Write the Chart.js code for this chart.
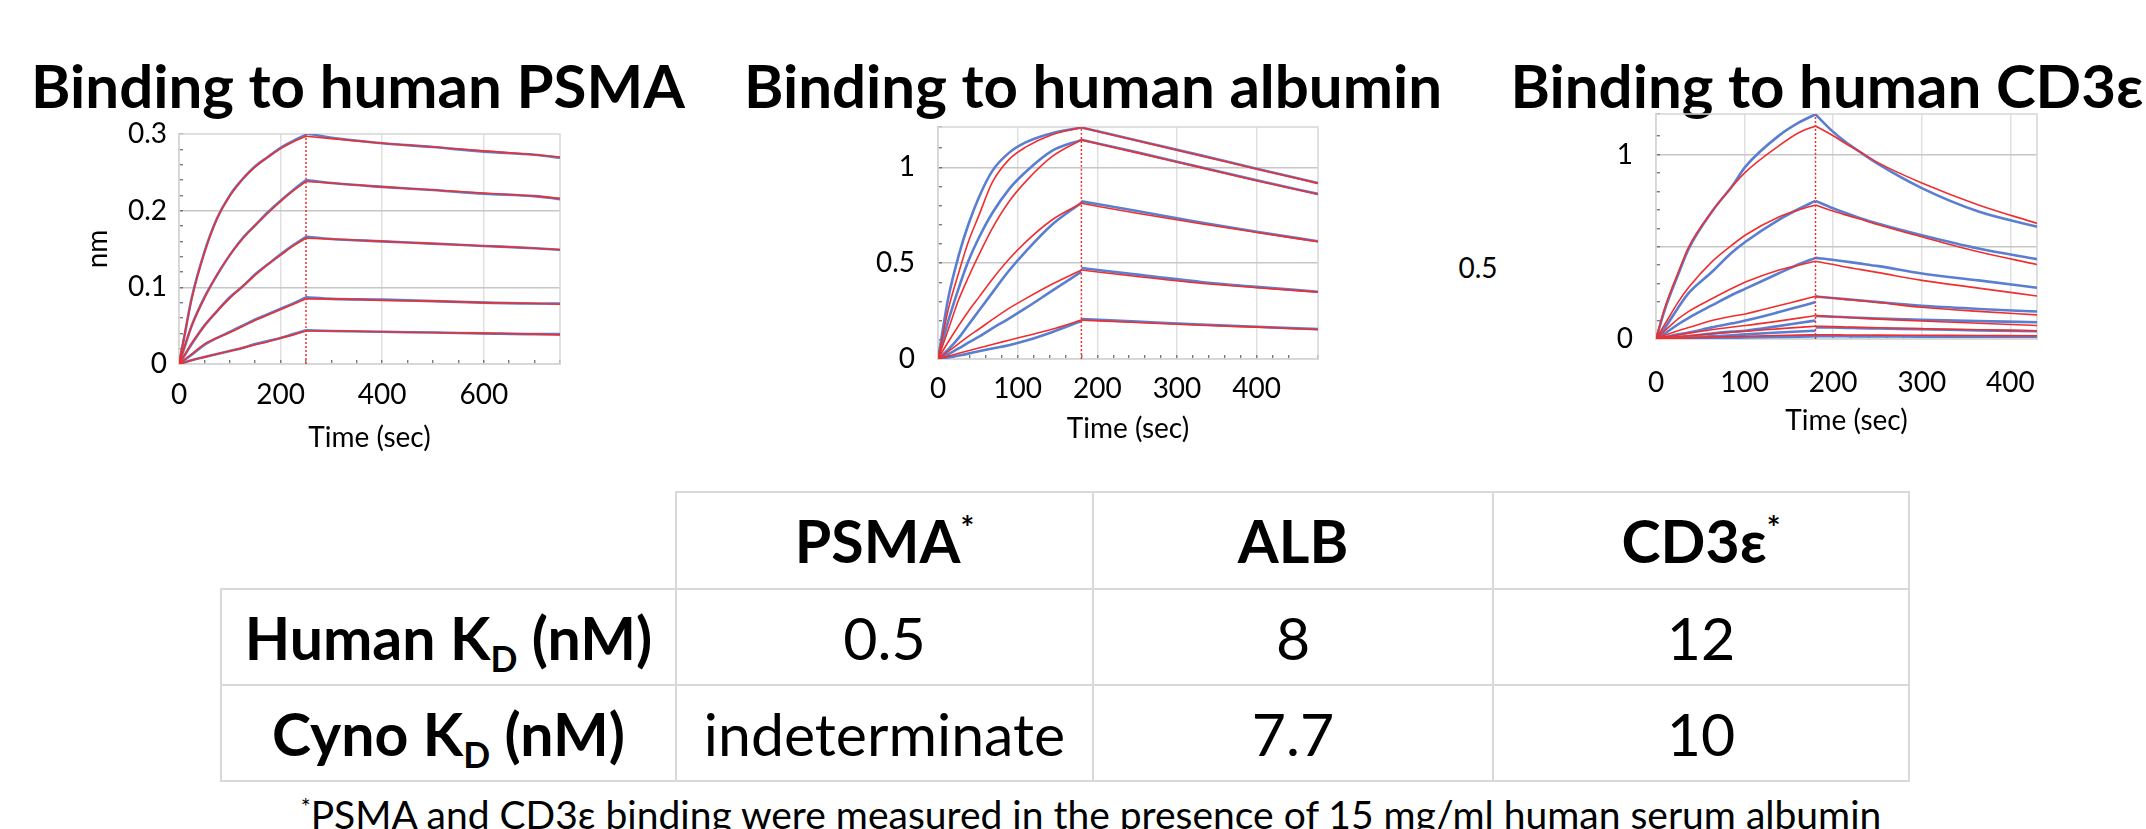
<!DOCTYPE html>
<html>
<head>
<meta charset="utf-8">
<script src="https://cdn.jsdelivr.net/npm/chart.js@4.4.1/dist/chart.umd.min.js"></script>
<style>
  body { margin: 0; background: #fff; }
  #page { position: relative; width: 2146px; height: 829px; overflow: hidden; font-family: 'Lato', sans-serif; color: #000; }
  .title { position: absolute; top: 55px; transform: translateX(-50%); font-weight: 700; font-size: 60px; line-height: 1; white-space: nowrap; }
  .stray { position: absolute; transform: translate(-50%, -50%); font-size: 28px; line-height: 1; }
  canvas { position: absolute; }
  #kd { position: absolute; left: 220px; top: 491px; border-collapse: collapse; font-size: 59px; }
  #kd td { border: 2px solid #d9d9d9; text-align: center; padding: 0; line-height: 1; }
  #kd tr { height: 96px; }
  #kd td.blank { border-top: none; border-left: none; }
  #kd .b { font-weight: 700; }
  #kd sup { font-size: 0.55em; vertical-align: 0.7em; line-height: 0; }
  #kd sub { font-size: 0.6em; vertical-align: -0.35em; line-height: 0; }
  #note { position: absolute; left: 1091px; top: 795px; transform: translateX(-50%); font-size: 39px; line-height: 1; white-space: nowrap; }
  #note sup { font-size: 0.6em; vertical-align: 0.6em; line-height: 0; }
</style>
</head>
<body>
<div id="page">
  <div class="title" style="left:358px">Binding to human PSMA</div>
  <div class="title" style="left:1093px">Binding to human albumin</div>
  <div class="title" style="left:1827px">Binding to human CD3ε</div>
  <div class="stray" style="left:1478px; top:267px">0.5</div>

  <canvas id="psma" width="520" height="345" style="left:60px; top:118px"></canvas>
  <canvas id="alb" width="482" height="346" style="left:858px; top:110px"></canvas>
  <canvas id="cd3" width="482" height="345" style="left:1578px; top:100px"></canvas>

  <table id="kd"></table>
  <div id="note"><sup>*</sup>PSMA and CD3ε binding were measured in the presence of 15 mg/ml human serum albumin</div>
</div>

<script>
// PSMA sensorgram (nm vs sec), contact ends at 250 s
const psmaContactEnd = 250;
const psmaAssocTime = [0, 10, 25, 50, 75, 100, 125, 150, 175, 200, 225, 250];
const psmaDissocTime = [250, 300, 400, 500, 600, 700, 750];
const psmaFitAssoc = [
  [0, 0.035, 0.085, 0.145, 0.19, 0.219, 0.241, 0.257, 0.27, 0.281, 0.29, 0.297],
  [0, 0.021, 0.05, 0.086, 0.117, 0.142, 0.163, 0.181, 0.197, 0.212, 0.226, 0.238],
  [0, 0.011, 0.027, 0.05, 0.069, 0.086, 0.101, 0.116, 0.13, 0.142, 0.154, 0.164],
  [0, 0.005, 0.013, 0.026, 0.034, 0.041, 0.049, 0.057, 0.064, 0.071, 0.078, 0.085],
  [0, 0.002, 0.005, 0.009, 0.013, 0.017, 0.021, 0.025, 0.029, 0.034, 0.038, 0.043]
];
const psmaFitDissoc = [
  [0.297, 0.294, 0.288, 0.283, 0.278, 0.273, 0.27],
  [0.238, 0.236, 0.231, 0.227, 0.223, 0.219, 0.216],
  [0.164, 0.163, 0.16, 0.157, 0.154, 0.151, 0.149],
  [0.085, 0.085, 0.083, 0.082, 0.08, 0.079, 0.078],
  [0.043, 0.043, 0.042, 0.041, 0.04, 0.039, 0.038]
];
const psmaDataAssoc = [
  [0, 0.034, 0.086, 0.146, 0.19, 0.22, 0.241, 0.258, 0.27, 0.282, 0.291, 0.299],
  [0, 0.02, 0.05, 0.087, 0.116, 0.142, 0.164, 0.181, 0.198, 0.213, 0.227, 0.24],
  [0, 0.01, 0.026, 0.05, 0.069, 0.087, 0.101, 0.117, 0.13, 0.143, 0.155, 0.166],
  [0, 0.005, 0.012, 0.025, 0.034, 0.042, 0.05, 0.058, 0.065, 0.072, 0.079, 0.087],
  [0, 0.002, 0.005, 0.009, 0.013, 0.017, 0.021, 0.026, 0.03, 0.034, 0.039, 0.044]
];
const psmaDataDissoc = [
  [0.301, 0.295, 0.288, 0.283, 0.277, 0.273, 0.269],
  [0.24, 0.236, 0.231, 0.227, 0.222, 0.219, 0.215],
  [0.166, 0.163, 0.16, 0.157, 0.154, 0.151, 0.149],
  [0.087, 0.085, 0.084, 0.082, 0.08, 0.079, 0.079],
  [0.044, 0.043, 0.042, 0.041, 0.04, 0.039, 0.039]
];

// albumin sensorgram, contact ends at 180 s
const albContactEnd = 180;
const albAssocTime = [0, 13, 26, 38, 51, 68, 89, 110, 143, 180];
const albDissocTime = [180, 250, 330, 400, 477];
const albFitAssoc = [
  [0, 0.26, 0.45, 0.61, 0.745, 0.92, 1.04, 1.105, 1.17, 1.207],
  [0, 0.155, 0.31, 0.425, 0.54, 0.68, 0.82, 0.925, 1.055, 1.143],
  [0, 0.09, 0.175, 0.248, 0.32, 0.415, 0.52, 0.61, 0.725, 0.812],
  [0, 0.04, 0.08, 0.118, 0.155, 0.205, 0.264, 0.315, 0.39, 0.464],
  [0, 0.015, 0.03, 0.043, 0.057, 0.076, 0.098, 0.12, 0.155, 0.203]
];
const albFitDissoc = [
  [1.207, 1.138, 1.06, 0.991, 0.916],
  [1.143, 1.075, 0.998, 0.93, 0.859],
  [0.812, 0.76, 0.705, 0.66, 0.612],
  [0.464, 0.43, 0.395, 0.372, 0.349],
  [0.203, 0.19, 0.176, 0.166, 0.154]
];
const albDataAssoc = [
  [0, 0.32, 0.54, 0.7, 0.84, 0.98, 1.075, 1.13, 1.178, 1.207],
  [0, 0.2, 0.37, 0.51, 0.63, 0.76, 0.885, 0.975, 1.085, 1.143],
  [0, 0.05, 0.11, 0.177, 0.25, 0.345, 0.46, 0.56, 0.7, 0.815],
  [0, 0.025, 0.055, 0.085, 0.115, 0.16, 0.211, 0.265, 0.355, 0.455],
  [0, 0.008, 0.018, 0.028, 0.04, 0.055, 0.072, 0.095, 0.14, 0.198]
];
const albDataDissoc = [
  [1.207, 1.14, 1.062, 0.992, 0.918],
  [1.143, 1.078, 1.0, 0.932, 0.861],
  [0.822, 0.772, 0.712, 0.664, 0.614],
  [0.475, 0.44, 0.402, 0.376, 0.351],
  [0.208, 0.195, 0.18, 0.168, 0.156]
];

// CD3e sensorgram, contact ends at 180 s
const cd3ContactEnd = 180;
const cd3AssocTime = [0, 10, 25, 37, 63, 86, 101, 138, 161, 180];
const cd3DissocTime = [180, 199, 214, 229, 251, 300, 364, 430];
const cd3FitAssoc = [
  [0, 0.17, 0.36, 0.5, 0.69, 0.827, 0.905, 1.045, 1.118, 1.155],
  [0, 0.08, 0.2, 0.28, 0.418, 0.51, 0.564, 0.66, 0.7, 0.727],
  [0, 0.045, 0.109, 0.15, 0.218, 0.275, 0.309, 0.373, 0.4, 0.422],
  [0, 0.02, 0.045, 0.062, 0.1, 0.123, 0.136, 0.18, 0.208, 0.231],
  [0, 0.01, 0.022, 0.032, 0.05, 0.065, 0.073, 0.097, 0.113, 0.127],
  [0, 0.005, 0.012, 0.018, 0.028, 0.037, 0.042, 0.055, 0.063, 0.069],
  [0, 0.002, 0.004, 0.006, 0.01, 0.013, 0.015, 0.019, 0.021, 0.023]
];
const cd3FitDissoc = [
  [1.155, 1.105, 1.06, 1.018, 0.955, 0.846, 0.727, 0.627],
  [0.727, 0.695, 0.673, 0.652, 0.62, 0.554, 0.473, 0.404],
  [0.422, 0.405, 0.39, 0.378, 0.36, 0.318, 0.276, 0.233],
  [0.231, 0.222, 0.215, 0.208, 0.198, 0.172, 0.15, 0.131],
  [0.127, 0.122, 0.118, 0.114, 0.108, 0.098, 0.085, 0.073],
  [0.069, 0.067, 0.065, 0.063, 0.061, 0.056, 0.05, 0.045],
  [0.023, 0.023, 0.022, 0.022, 0.021, 0.02, 0.019, 0.018]
];
const cd3DataAssoc = [
  [0, 0.16, 0.35, 0.49, 0.69, 0.83, 0.935, 1.1, 1.173, 1.218],
  [0, 0.06, 0.17, 0.25, 0.363, 0.47, 0.527, 0.645, 0.705, 0.749],
  [0, 0.03, 0.08, 0.115, 0.182, 0.24, 0.273, 0.355, 0.405, 0.44],
  [0, 0.01, 0.025, 0.035, 0.063, 0.085, 0.1, 0.145, 0.175, 0.2],
  [0, 0.004, 0.01, 0.016, 0.03, 0.04, 0.045, 0.07, 0.087, 0.1],
  [0, 0.002, 0.005, 0.008, 0.014, 0.02, 0.025, 0.035, 0.041, 0.045],
  [0, 0.001, 0.002, 0.003, 0.005, 0.007, 0.008, 0.011, 0.013, 0.015]
];
const cd3DataDissoc = [
  [1.218, 1.127, 1.068, 1.018, 0.948, 0.818, 0.691, 0.609],
  [0.749, 0.71, 0.683, 0.658, 0.625, 0.563, 0.491, 0.433],
  [0.44, 0.43, 0.42, 0.41, 0.395, 0.355, 0.318, 0.278],
  [0.23, 0.222, 0.216, 0.21, 0.2, 0.18, 0.163, 0.149],
  [0.125, 0.121, 0.118, 0.115, 0.111, 0.104, 0.097, 0.091],
  [0.063, 0.062, 0.06, 0.059, 0.057, 0.053, 0.047, 0.042],
  [0.015, 0.015, 0.015, 0.014, 0.014, 0.013, 0.013, 0.012]
];

// KD table
const kdTargets = ['PSMA', 'ALB', 'CD3ε'];
const kdStarred = [true, false, true];
const kdRows = ['Human', 'Cyno'];
const humanKd = ['0.5', '8', '12'];
const cynoKd = ['indeterminate', '7.7', '10'];

const dataBlue = '#5a7ed0';
const fitRed = '#ef2f2f';
const tickFont = { family: 'Lato', size: 28, lineHeight: 1 };

function pts(times, vals) {
  return times.map((t, i) => ({ x: t, y: vals[i] }));
}

function lineSet(points, color, width) {
  return { data: points, borderColor: color, borderWidth: width, pointRadius: 0,
           cubicInterpolationMode: 'monotone', fill: false };
}

// chart.js paints index 0 last, so the red fits and the marker go first
function buildSets(s) {
  const sets = [];
  const marker = lineSet([{ x: s.contactEnd, y: s.yMin }, { x: s.contactEnd, y: s.yMax }], fitRed, 1.5);
  marker.borderDash = [2, 2];
  sets.push(marker);
  s.fitAssoc.forEach((v, i) => {
    sets.push(lineSet(pts(s.assocT, v), fitRed, 1.6));
    sets.push(lineSet(pts(s.dissT, s.fitDissoc[i]), fitRed, 1.6));
  });
  s.dataAssoc.forEach((v, i) => {
    sets.push(lineSet(pts(s.assocT, v), dataBlue, 2.6));
    sets.push(lineSet(pts(s.dissT, s.dataDissoc[i]), dataBlue, 2.6));
  });
  return sets;
}

const near = (v, step) => Math.abs(v / step - Math.round(v / step)) < 1e-6;

const plotFrame = {
  id: 'plotFrame',
  beforeDatasetsDraw(chart) {
    const { ctx, chartArea: a } = chart;
    ctx.save();
    ctx.strokeStyle = '#d6d6d6';
    ctx.lineWidth = 1.5;
    ctx.strokeRect(a.left, a.top, a.width, a.height);
    ctx.restore();
  }
};

function noPad(sc) {
  sc.paddingTop = 0; sc.paddingBottom = 0; sc.paddingLeft = 0; sc.paddingRight = 0;
}

function sensorgram(id, s) {
  new Chart(document.getElementById(id), {
    type: 'line',
    data: { datasets: buildSets(s) },
    plugins: [plotFrame],
    options: {
      responsive: false,
      animation: false,
      devicePixelRatio: 1,
      layout: { padding: { top: s.padTop, right: s.padRight, left: 0, bottom: 0 } },
      plugins: { legend: { display: false }, tooltip: { enabled: false } },
      scales: {
        x: {
          type: 'linear', min: 0, max: s.xMax,
          afterFit: sc => { sc.height = s.xH; noPad(sc); },
          ticks: {
            stepSize: s.xMinor, padding: s.xTickPad, color: '#000', font: tickFont,
            maxRotation: 0, minRotation: 0, autoSkip: false, maxTicksLimit: 1000,
            callback: v => (near(v, s.xMajor) ? String(Math.round(v)) : '')
          },
          grid: {
            color: c => (c.tick && c.tick.value > 0 && c.tick.value < s.xMax && near(c.tick.value, s.xMajor)) ? '#e0e0e0' : 'rgba(0,0,0,0)',
            lineWidth: 1.5, drawTicks: true, tickLength: -4, tickColor: '#666', tickWidth: 1.2
          },
          border: { color: '#d6d6d6', width: 1.5 },
          title: { display: true, text: 'Time (sec)', color: '#000', font: tickFont,
                   padding: { top: 0, bottom: s.xTitlePad } }
        },
        y: {
          type: 'linear', min: s.yMin, max: s.yMax,
          afterFit: sc => { sc.width = s.yW; noPad(sc); },
          ticks: {
            stepSize: s.yMinor, padding: s.yTickPad, color: '#000', font: tickFont,
            autoSkip: false, maxTicksLimit: 1000,
            callback: v => (s.yLabels.some(l => Math.abs(l - v) < 1e-6) ? String(Math.round(v * 10) / 10) : '')
          },
          grid: {
            color: c => (c.tick && c.tick.value > 0 && c.tick.value < s.yMax - 1e-6 && near(c.tick.value, s.yMajor)) ? '#c6c6c6' : 'rgba(0,0,0,0)',
            lineWidth: 1.5, drawTicks: true, tickLength: -4, tickColor: '#666', tickWidth: 1.2
          },
          border: { color: '#d6d6d6', width: 1.5 },
          title: { display: !!s.yTitle, text: s.yTitle || '', color: '#000', font: tickFont,
                   padding: { top: 24, bottom: 0 } }
        }
      }
    }
  });
}

sensorgram('psma', {
  assocT: psmaAssocTime, dissT: psmaDissocTime,
  fitAssoc: psmaFitAssoc, fitDissoc: psmaFitDissoc,
  dataAssoc: psmaDataAssoc, dataDissoc: psmaDataDissoc,
  contactEnd: psmaContactEnd,
  xMax: 750, xMajor: 200, xMinor: 50,
  yMin: 0, yMax: 0.3, yMajor: 0.1, yMinor: 0.02, yLabels: [0, 0.1, 0.2, 0.3],
  yTitle: 'nm',
  padTop: 16, padRight: 20, yW: 119, xH: 99,
  xTickPad: 21, xTitlePad: 11, yTickPad: 16
});

sensorgram('alb', {
  assocT: albAssocTime, dissT: albDissocTime,
  fitAssoc: albFitAssoc, fitDissoc: albFitDissoc,
  dataAssoc: albDataAssoc, dataDissoc: albDataDissoc,
  contactEnd: albContactEnd,
  xMax: 477, xMajor: 100, xMinor: 20,
  yMin: 0, yMax: 1.21, yMajor: 0.5, yMinor: 0.1, yLabels: [0, 0.5, 1],
  padTop: 17, padRight: 22, yW: 80, xH: 97,
  xTickPad: 20, xTitlePad: 13, yTickPad: 27
});

sensorgram('cd3', {
  assocT: cd3AssocTime, dissT: cd3DissocTime,
  fitAssoc: cd3FitAssoc, fitDissoc: cd3FitDissoc,
  dataAssoc: cd3DataAssoc, dataDissoc: cd3DataDissoc,
  contactEnd: cd3ContactEnd,
  xMax: 430, xMajor: 100, xMinor: 20,
  yMin: 0, yMax: 1.22, yMajor: 0.5, yMinor: 0.1, yLabels: [0, 1],
  padTop: 14, padRight: 23, yW: 78, xH: 106,
  xTickPad: 34, xTitlePad: 10, yTickPad: 27
});

// table
const table = document.getElementById('kd');
const colWidths = [455, 417, 400, 416];
let html = '<colgroup>' + colWidths.map(w => '<col style="width:' + w + 'px">').join('') + '</colgroup>';
html += '<tr style="height:97px"><td class="blank"></td>' +
  kdTargets.map((t, i) => '<td class="b">' + t + (kdStarred[i] ? '<sup>*</sup>' : '') + '</td>').join('') + '</tr>';
[humanKd, cynoKd].forEach((vals, r) => {
  html += '<tr><td class="b">' + kdRows[r] + ' K<sub>D</sub> (nM)</td>' +
    vals.map(v => '<td>' + v + '</td>').join('') + '</tr>';
});
table.innerHTML = html;
table.style.tableLayout = 'fixed';
table.style.width = colWidths.reduce((a, b) => a + b, 0) + 'px';
</script>
</body>
</html>
